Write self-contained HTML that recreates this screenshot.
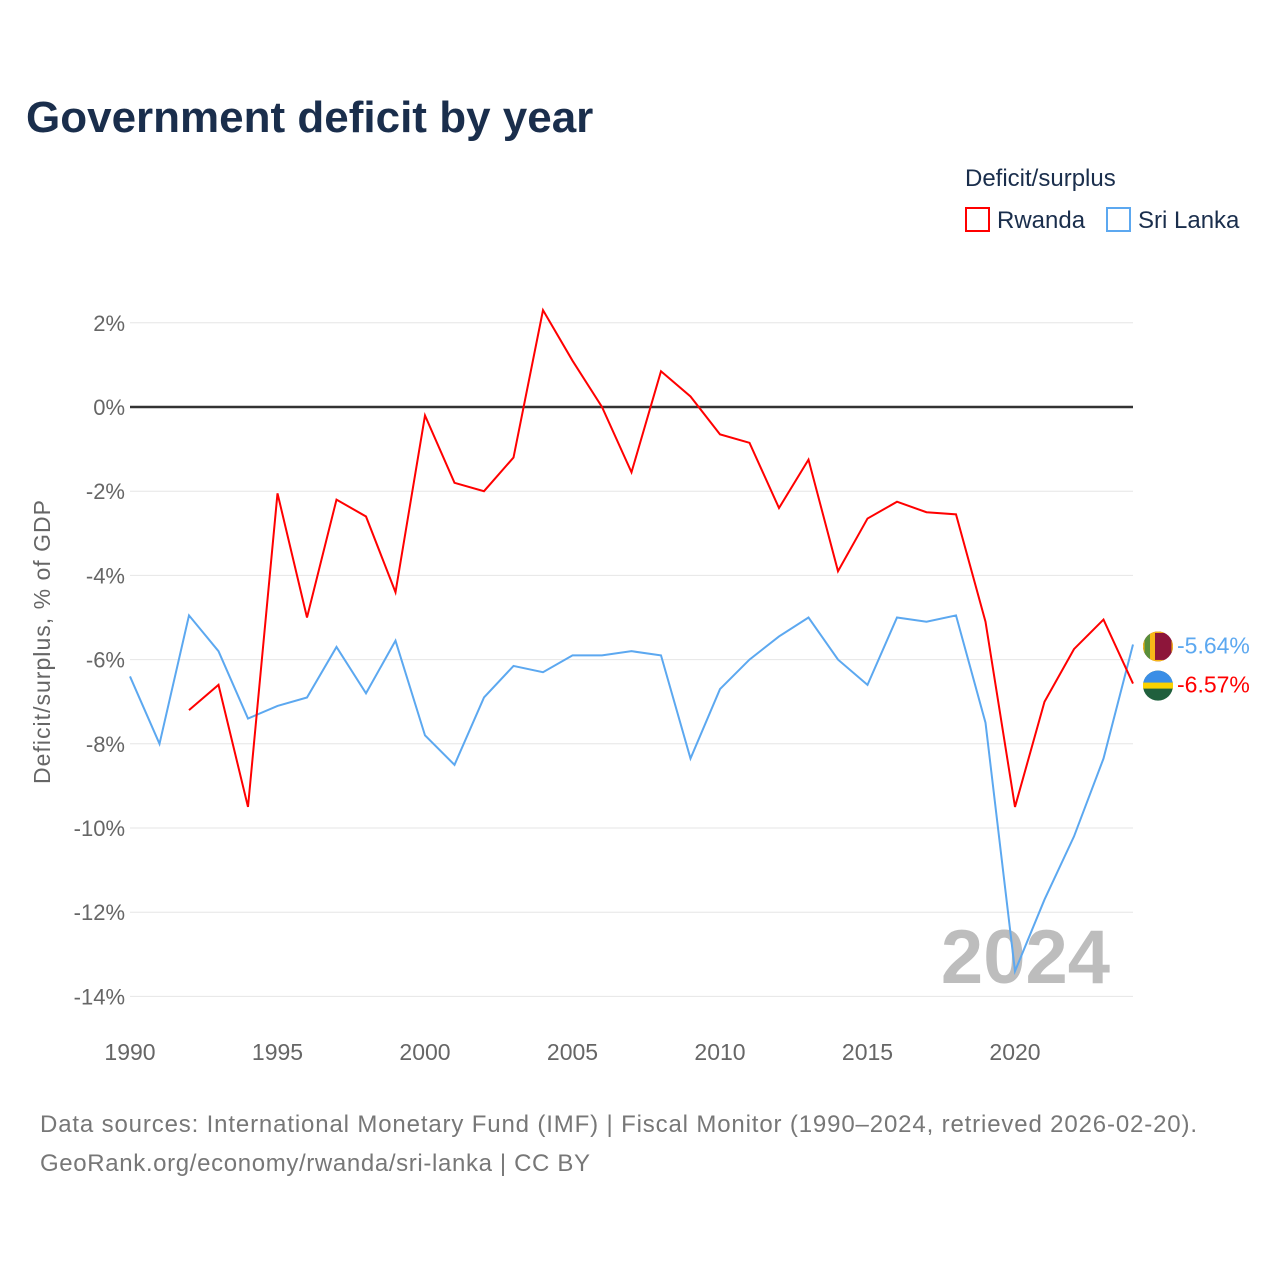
<!DOCTYPE html>
<html><head><meta charset="utf-8"><style>
body{margin:0;background:#fff;font-family:"Liberation Sans",sans-serif;}
</style></head><body>
<svg id="chart" width="1280" height="1280" viewBox="0 0 1280 1280" xmlns="http://www.w3.org/2000/svg" font-family="Liberation Sans, sans-serif">
<defs><clipPath id="lkclip"><circle id="lkc" cx="1158" cy="0" r="15"/></clipPath></defs>
<text x="26" y="132" font-size="44" font-weight="bold" fill="#1a2e4c">Government deficit by year</text>
<text x="965" y="186" font-size="24" fill="#1a2e4c">Deficit/surplus</text>
<g><rect x="966" y="208" width="23" height="23" fill="none" stroke="#f00" stroke-width="2"/><text x="997" y="228" font-size="24" fill="#1a2e4c">Rwanda</text></g>
<g><rect x="1107" y="208" width="23" height="23" fill="none" stroke="#5ca8f0" stroke-width="2"/><text x="1138" y="228" font-size="24" fill="#1a2e4c">Sri Lanka</text></g>
<g id="grid"></g>
<text x="1110" y="983" font-size="76" font-weight="bold" fill="#bdbdbd" text-anchor="end">2024</text>
<g id="series"></g>
<text transform="translate(50,642) rotate(-90)" font-size="23" fill="#666" text-anchor="middle" textLength="284">Deficit/surplus, % of GDP</text>
<text x="40" y="1132" font-size="24" fill="#777" textLength="1157">Data sources: International Monetary Fund (IMF) | Fiscal Monitor (1990–2024, retrieved 2026-02-20).</text>
<text x="40" y="1171" font-size="24" fill="#777" textLength="550">GeoRank.org/economy/rwanda/sri-lanka | CC BY</text>
</svg>
<script>
const years=[1990,1991,1992,1993,1994,1995,1996,1997,1998,1999,2000,2001,2002,2003,2004,2005,2006,2007,2008,2009,2010,2011,2012,2013,2014,2015,2016,2017,2018,2019,2020,2021,2022,2023,2024];
const rwanda=[null,null,-7.2,-6.6,-9.5,-2.05,-5.0,-2.2,-2.6,-4.4,-0.2,-1.8,-2.0,-1.2,2.3,1.1,0,-1.55,0.85,0.25,-0.65,-0.85,-2.4,-1.25,-3.9,-2.65,-2.25,-2.5,-2.55,-5.1,-9.5,-7.0,-5.75,-5.05,-6.57];
const sriLanka=[-6.4,-8.0,-4.95,-5.8,-7.4,-7.1,-6.9,-5.7,-6.8,-5.55,-7.8,-8.5,-6.9,-6.15,-6.3,-5.9,-5.9,-5.8,-5.9,-8.35,-6.7,-6.0,-5.45,-5.0,-6.0,-6.6,-5.0,-5.1,-4.95,-7.5,-13.4,-11.7,-10.2,-8.35,-5.64];
const yTicks=[2,0,-2,-4,-6,-8,-10,-12,-14];
const xTicks=[1990,1995,2000,2005,2010,2015,2020];
const NS="http://www.w3.org/2000/svg";
const X=y=>130+(y-1990)*29.5;
const Y=v=>407-v*42.1;
function mk(t,a,p){const e=document.createElementNS(NS,t);for(const k in a)e.setAttribute(k,a[k]);p.appendChild(e);return e;}
const grid=document.getElementById('grid');
yTicks.forEach(t=>{
 const l=mk('line',{x1:130,x2:1133,y1:Y(t),y2:Y(t),stroke:t===0?'#333':'#e6e6e6','stroke-width':t===0?2.5:1},grid);
 
 
 const tx=mk('text',{x:125,y:Y(t)+8,'font-size':22,fill:'#666','text-anchor':'end'},grid);
 tx.textContent=t+'%';
 
 
});
xTicks.forEach(t=>{
 const tx=mk('text',{x:X(t),y:1060,'font-size':23,fill:'#666','text-anchor':'middle'},grid);
 tx.textContent=t;
 
 
});
const ser=document.getElementById('series');
function line(vals,color,name){
 let d='';let pen=false;
 vals.forEach((v,i)=>{if(v===null){pen=false;return;}d+=(pen?'L':'M')+X(years[i])+' '+Y(v)+' ';pen=true;});
 const p=mk('path',{d:d,fill:'none',stroke:color,'stroke-width':2},ser);
 
 
}
line(sriLanka,'#5ca8f0','sri-lanka-line');
line(rwanda,'#f00','rwanda-line');
function endLabel(v,color,name,flag){
 const y=Y(v),g=mk('g',{},ser);
 
 
 if(flag==='lk'){
  document.getElementById('lkc').setAttribute('cy',y+2);
  const f=mk('g',{'clip-path':'url(#lkclip)'},g);
  mk('rect',{x:1143,y:y-13,width:30,height:30,fill:'#8d153a'},f);mk('rect',{x:1143,y:y-13,width:7,height:30,fill:'#5a8f3a'},f);mk('rect',{x:1150,y:y-13,width:5,height:30,fill:'#f7b718'},f);mk('rect',{x:1143,y:y-13,width:30,height:30,fill:'none',stroke:'#f7b718','stroke-width':3},f);}
 else{mk('circle',{cx:1158,cy:y+2,r:15,fill:'#20603d'},g);mk('path',{d:`M1143 ${y+2} A15 15 0 0 1 1173 ${y+2} Z`,fill:'#3a8ee6'},g);mk('rect',{x:1143,y:y-1,width:30,height:6,fill:'#fad201'},g);}
 const t=mk('text',{x:1177,y:y+9,'font-size':23,fill:color},g);t.textContent=v.toFixed(2)+'%';
}
endLabel(sriLanka[sriLanka.length-1],'#5ca8f0','sri-lanka-end-label','lk');
endLabel(rwanda[rwanda.length-1],'#f00','rwanda-end-label','rw');
</script>
</body></html>
